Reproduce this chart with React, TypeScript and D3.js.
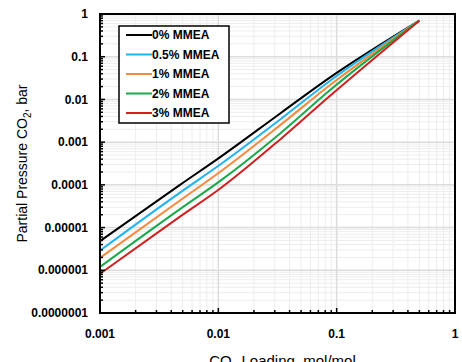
import React from 'react';
import * as d3 from 'd3';

// CO2 loading (mol/mol)
const loading = [0.001, 0.00474, 0.0103, 0.0333, 0.088, 0.5];

// partial pressure of CO2 (bar), one array per MMEA level
const mmea0 = [4.8e-6, 1.0e-4, 4.4e-4, 4.7e-3, 0.0329, 0.7];
const mmea05 = [2.9e-6, 6.6e-5, 2.95e-4, 3.4e-3, 0.0274, 0.7];
const mmea1 = [1.95e-6, 4.3e-5, 2.0e-4, 2.5e-3, 0.0217, 0.7];
const mmea2 = [1.2e-6, 2.7e-5, 1.22e-4, 1.6e-3, 0.0166, 0.7];
const mmea3 = [8.3e-7, 1.8e-5, 8.1e-5, 1.16e-3, 0.0122, 0.7];

const seriesNames = ['0% MMEA', '0.5% MMEA', '1% MMEA', '2% MMEA', '3% MMEA'];
const seriesValues = [mmea0, mmea05, mmea1, mmea2, mmea3];
const seriesColors = ['#000000', '#1fb4ef', '#f58a3c', '#1aaa4c', '#d0201f'];

const xTickLabels = ['0.001', '0.01', '0.1', '1'];
const yTickLabels = ['0.0000001', '0.000001', '0.00001', '0.0001', '0.001', '0.01', '0.1', '1'];

const App = () => {
  const width = 462;
  const height = 362;
  const margin = { top: 14, right: 7, bottom: 49, left: 100 };
  const innerW = width - margin.left - margin.right;
  const innerH = height - margin.top - margin.bottom;

  const xScale = d3.scaleLog().domain([0.001, 1]).range([0, innerW]);
  const yScale = d3.scaleLog().domain([1e-7, 1]).range([innerH, 0]);

  const line = d3
    .line<[number, number]>()
    .x(d => xScale(d[0]))
    .y(d => yScale(d[1]))
    .curve(d3.curveMonotoneX);

  // minor grid values (2..9 in each decade)
  const xMinor: number[] = [];
  for (let e = -3; e < 0; e++) for (let m = 2; m <= 9; m++) xMinor.push(m * Math.pow(10, e));
  const yMinor: number[] = [];
  for (let e = -7; e < 0; e++) for (let m = 2; m <= 9; m++) yMinor.push(m * Math.pow(10, e));
  const xMajor = xTickLabels.map(Number);
  const yMajor = yTickLabels.map(Number);

  const font = '"Liberation Sans", Arial, sans-serif';

  return (
    <svg
      width={width}
      height={height}
      style={{ position: 'absolute', left: 0, top: 0, background: '#fff' }}
      fontFamily={font}
    >
      <g transform={`translate(${margin.left},${margin.top})`}>
        {/* minor grid */}
        {xMinor.map(v => (
          <line key={`gx${v}`} x1={xScale(v)} x2={xScale(v)} y1={0} y2={innerH} stroke="#ededed" strokeWidth={1} />
        ))}
        {yMinor.map(v => (
          <line key={`gy${v}`} x1={0} x2={innerW} y1={yScale(v)} y2={yScale(v)} stroke="#ededed" strokeWidth={1} />
        ))}
        {/* major grid */}
        {xMajor.map(v => (
          <line key={`Gx${v}`} x1={xScale(v)} x2={xScale(v)} y1={0} y2={innerH} stroke="#dcdcdc" strokeWidth={1.5} />
        ))}
        {yMajor.map(v => (
          <line key={`Gy${v}`} x1={0} x2={innerW} y1={yScale(v)} y2={yScale(v)} stroke="#dcdcdc" strokeWidth={1.5} />
        ))}

        {/* data lines */}
        {seriesValues.map((vals, i) => (
          <path
            key={seriesNames[i]}
            d={line(loading.map((x, j) => [x, vals[j]] as [number, number])) || ''}
            fill="none"
            stroke={seriesColors[i]}
            strokeWidth={2}
          />
        ))}

        {/* inside ticks */}
        {xMinor.map(v => (
          <line key={`tx${v}`} x1={xScale(v)} x2={xScale(v)} y1={innerH} y2={innerH - 3} stroke="#000" strokeWidth={1.5} />
        ))}
        {xMajor.map(v => (
          <line key={`Tx${v}`} x1={xScale(v)} x2={xScale(v)} y1={innerH} y2={innerH - 5} stroke="#000" strokeWidth={1.5} />
        ))}
        {yMinor.map(v => (
          <line key={`ty${v}`} x1={0} x2={3} y1={yScale(v)} y2={yScale(v)} stroke="#000" strokeWidth={1.5} />
        ))}
        {yMajor.map(v => (
          <line key={`Ty${v}`} x1={0} x2={5} y1={yScale(v)} y2={yScale(v)} stroke="#000" strokeWidth={1.5} />
        ))}

        {/* frame */}
        <rect x={0} y={0} width={innerW} height={innerH} fill="none" stroke="#000" strokeWidth={2} />

        {/* tick labels */}
        {xTickLabels.map(t => (
          <text key={`lx${t}`} x={xScale(Number(t))} y={innerH + 25} textAnchor="middle" fontSize={12} fontWeight="bold" fill="#000">
            {t}
          </text>
        ))}
        {yTickLabels.map(t => (
          <text key={`ly${t}`} x={-12} y={yScale(Number(t))} dy="0.35em" textAnchor="end" fontSize={12} fontWeight="bold" fill="#000">
            {t}
          </text>
        ))}

        {/* axis titles */}
        <text x={innerW / 2 + 5} y={innerH + 53} textAnchor="middle" fontSize={15} fill="#000">
          CO<tspan fontSize={10} dy={4}>2</tspan>
          <tspan dy={-4}> Loading, mol/mol</tspan>
        </text>
        <text
          transform={`translate(${-73},${innerH / 2}) rotate(-90)`}
          textAnchor="middle"
          fontSize={14}
          fill="#000"
        >
          Partial Pressure CO<tspan fontSize={10} dy={4}>2</tspan>
          <tspan dy={-4}>, bar</tspan>
        </text>

        {/* legend */}
        <g transform="translate(19,12)">
          <rect x={0} y={0} width={110} height={97} fill="#fff" stroke="#000" strokeWidth={1.5} />
          {seriesNames.map((name, i) => (
            <g key={`lg${name}`} transform={`translate(0,${9 + i * 19.5})`}>
              <line x1={7} x2={33} y1={0} y2={0} stroke={seriesColors[i]} strokeWidth={2} />
              <text x={33} y={0} dy="0.35em" fontSize={12} fontWeight="bold" fill="#000">
                {name}
              </text>
            </g>
          ))}
        </g>
      </g>
    </svg>
  );
};

export default App;
